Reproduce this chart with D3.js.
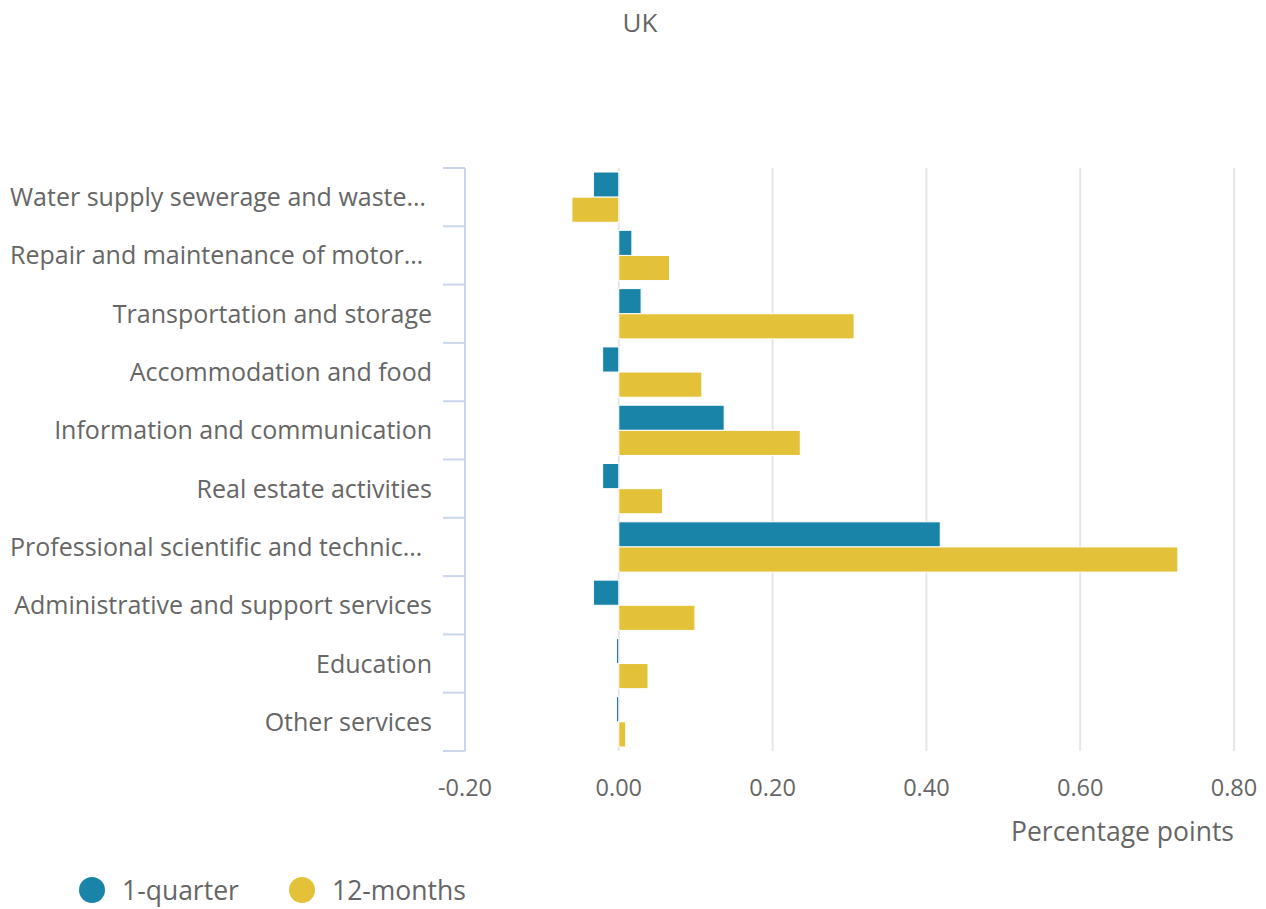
<!DOCTYPE html>
<html>
<head>
<meta charset="utf-8">
<script src="https://cdn.jsdelivr.net/npm/d3@7"></script>
<style>
  body { margin: 0; background: #fff; }
  text { font-family: "Open Sans", sans-serif; fill: #666; }
</style>
</head>
<body>
<div id="chart"></div>
<script>
const categories = [
    "Water supply sewerage and waste management",
    "Repair and maintenance of motor vehicles",
    "Transportation and storage",
    "Accommodation and food",
    "Information and communication",
    "Real estate activities",
    "Professional scientific and technical activities",
    "Administrative and support services",
    "Education",
    "Other services"
];
const quarter = [-0.033, 0.017, 0.029, -0.021, 0.137, -0.021, 0.418, -0.033, -0.003, -0.003];
const months12 = [-0.061, 0.066, 0.306, 0.108, 0.236, 0.057, 0.727, 0.099, 0.038, 0.009];
const xTicks = [-0.2, 0, 0.2, 0.4, 0.6, 0.8];
const seriesNames = ["1-quarter", "12-months"];
const colors = ["#1a83a8", "#e3c23a"];

const width = 1266;
const height = 909;
const margin = { top: 168, right: 32, bottom: 158, left: 465 };

const svg = d3.select("#chart")
    .append("svg")
    .attr("width", width)
    .attr("height", height);

const x = d3.scaleLinear()
    .domain([-0.2, 0.8])
    .range([margin.left, width - margin.right]);

const y = d3.scaleBand()
    .domain(categories)
    .range([margin.top, height - margin.bottom]);

const inner = d3.scaleBand()
    .domain([0, 1])
    .range([0, y.bandwidth()])
    .paddingOuter(0.16);

// title
svg.append("text")
    .attr("x", 640)
    .attr("y", 32)
    .attr("text-anchor", "middle")
    .style("font-size", "26px")
    .text("UK");

// grid lines
svg.append("g")
    .selectAll("line")
    .data(xTicks.filter(d => d > -0.2))
    .enter()
    .append("line")
    .attr("x1", d => x(d))
    .attr("x2", d => x(d))
    .attr("y1", margin.top)
    .attr("y2", height - margin.bottom)
    .attr("stroke", "#e6e6e6")
    .attr("stroke-width", 2);

// x labels
svg.append("g")
    .selectAll("text")
    .data(xTicks)
    .enter()
    .append("text")
    .attr("x", d => x(d))
    .attr("y", 796)
    .attr("text-anchor", "middle")
    .style("font-size", "23.5px")
    .text(d => d3.format(".2f")(d).replace("−", "-"));

svg.append("text")
    .attr("x", x(0.8))
    .attr("y", 841)
    .attr("text-anchor", "end")
    .style("font-size", "26.5px")
    .text("Percentage points");

// y axis line + ticks
const axisColor = "#ccd6eb";
svg.append("line")
    .attr("x1", margin.left)
    .attr("x2", margin.left)
    .attr("y1", margin.top)
    .attr("y2", height - margin.bottom)
    .attr("stroke", axisColor)
    .attr("stroke-width", 2);

const tickPos = categories.map(c => y(c)).concat([y.range()[1]]);
svg.append("g")
    .selectAll("line")
    .data(tickPos)
    .enter()
    .append("line")
    .attr("x1", margin.left - 22)
    .attr("x2", margin.left)
    .attr("y1", d => d)
    .attr("y2", d => d)
    .attr("stroke", axisColor)
    .attr("stroke-width", 2);

// category labels, truncated with an ellipsis when too long
const maxLabel = 422;
const labels = svg.append("g")
    .selectAll("text")
    .data(categories)
    .enter()
    .append("text")
    .attr("x", 432)
    .attr("y", d => y(d) + y.bandwidth() / 2 + 9)
    .attr("text-anchor", "end")
    .style("font-size", "25px")
    .text(d => d);

labels.each(function(d) {
    const t = d3.select(this);
    if (this.getComputedTextLength() <= maxLabel) return;
    let s = d;
    while (s.length > 0) {
        s = s.slice(0, -1);
        t.text(s.trimEnd() + "…");
        if (this.getComputedTextLength() <= maxLabel) break;
    }
    t.attr("x", 10).attr("text-anchor", "start");
});

// bars
const series = [quarter, months12];
series.forEach((vals, si) => {
    svg.append("g")
        .selectAll("rect")
        .data(vals)
        .enter()
        .append("rect")
        .attr("x", d => x(Math.min(0, d)))
        .attr("width", d => Math.abs(x(d) - x(0)))
        .attr("y", (d, i) => y(categories[i]) + inner(si))
        .attr("height", inner.bandwidth())
        .attr("fill", colors[si])
        .attr("stroke", "#fff")
        .attr("stroke-width", 1);
});

// legend
const legend = svg.append("g");
const legendX = [92, 302];
seriesNames.forEach((name, i) => {
    legend.append("circle")
        .attr("cx", legendX[i])
        .attr("cy", 890)
        .attr("r", 13)
        .attr("fill", colors[i]);
    legend.append("text")
        .attr("x", legendX[i] + 30)
        .attr("y", 900)
        .style("font-size", "26.5px")
        .text(name);
});
</script>
</body>
</html>
